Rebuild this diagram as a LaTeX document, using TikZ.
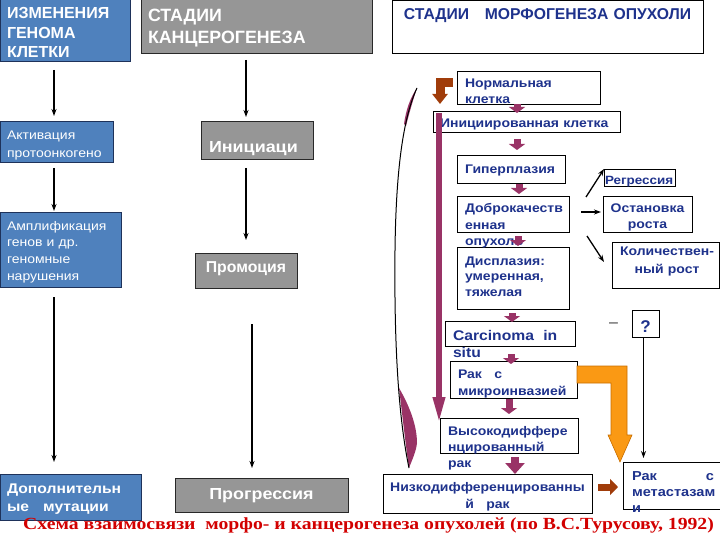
\documentclass[tikz,border=0pt]{standalone}
\usepackage{fontspec}
\setmainfont{Liberation Sans}
\newfontfamily\wsans[FakeStretch=1.12]{Liberation Sans}
\newfontfamily\capfont{Liberation Serif}
\usetikzlibrary{arrows.meta}
\definecolor{bfill}{RGB}{79,129,189}
\definecolor{bdraw}{RGB}{30,50,90}
\definecolor{gfill}{RGB}{150,150,150}
\definecolor{gdraw}{RGB}{40,40,40}
\definecolor{navy}{RGB}{30,50,140}
\definecolor{purp}{RGB}{153,51,102}
\definecolor{brn}{RGB}{160,60,10}
\definecolor{orng}{RGB}{250,153,20}
\definecolor{orngd}{RGB}{200,110,0}
\definecolor{capred}{RGB}{210,0,0}
\begin{document}
\begin{tikzpicture}[x=1pt,y=-1pt,
  box/.style={inner sep=0pt, outer sep=0pt, anchor=north west},
  bluebox/.style={box, fill=bfill, draw=bdraw, line width=1pt},
  graybox/.style={box, fill=gfill, draw=gdraw, line width=1pt},
  wbox/.style={box, fill=white, draw=black, line width=0.8pt},
  lt/.style={inner sep=0pt, outer sep=0pt, anchor=base west, text width=#1, align=left},
  ct/.style={inner sep=0pt, outer sep=0pt, anchor=base, text width=#1, align=center},
  nv/.style={text=navy},
  arr/.style={-{Stealth[length=7pt,width=5pt]}, line width=1.3pt},
  pa/.style={color=purp, line width=7pt, -{Triangle[length=6pt,width=16pt]}},
]
\useasboundingbox (0,0) rectangle (720,540);

% ---------- left column (genome) ----------
\node[bluebox, minimum width=130pt, minimum height=62pt] (b1) at (0,0) {};
\node[bluebox, minimum width=113pt, minimum height=41pt] (b2) at (0,122) {};
\node[bluebox, minimum width=121pt, minimum height=74pt] (b3) at (0,213) {};
\node[bluebox, minimum width=141pt, minimum height=46pt] (b4) at (0,474) {};
\node[lt=125pt, text=white, font=\bfseries\fontsize{16}{19.3}\selectfont] (b1t) at (7,19) {ИЗМЕНЕНИЯ\\ГЕНОМА\\КЛЕТКИ};
\node[lt=110pt, text=white, font=\wsans\fontsize{12.5}{17.5}\selectfont] (b2t) at (7,140) {Активация\\протоонкогено};
\node[lt=118pt, text=white, font=\wsans\fontsize{12.5}{16.7}\selectfont] (b3t) at (7,230) {Амплификация\\генов и др.\\геномные\\нарушения};
\node[lt=140pt, text=white, font=\wsans\bfseries\fontsize{14}{18.7}\selectfont] (b4t) at (7,493) {Дополнительн\\ые\ \ \ мутации};

% ---------- middle column (carcinogenesis) ----------
\node[graybox, minimum width=231pt, minimum height=54pt] (g1) at (141,0) {};
\node[graybox, minimum width=112pt, minimum height=38pt] (g2) at (201,122) {};
\node[graybox, minimum width=102pt, minimum height=35pt] (g3) at (195,253) {};
\node[graybox, minimum width=173pt, minimum height=34pt] (g4) at (175,478) {};
\node[lt=225pt, text=white, font=\bfseries\fontsize{17.8}{21.6}\selectfont] (g1t) at (148,21.7) {СТАДИИ\\КАНЦЕРОГЕНЕЗА};
\node[lt=110pt, text=white, font=\wsans\bfseries\fontsize{16}{21}\selectfont] (g2t) at (209,153) {Инициаци\\я};
\node[ct=100pt, text=white, font=\bfseries\fontsize{15.8}{18}\selectfont] (g3t) at (246,272) {Промоция};
\node[ct=170pt, text=white, font=\wsans\bfseries\fontsize{16}{19}\selectfont] (g4t) at (261.5,499) {Прогрессия};

% ---------- right column (morphogenesis) ----------
\node[wbox, minimum width=311pt, minimum height=52.5pt] (t1) at (392,0.5) {};
\node[ct=305pt, text=navy, font=\bfseries\fontsize{15.7}{18}\selectfont] (t1t) at (547.5,19.3) {СТАДИИ\ \ \ МОРФОГЕНЕЗА ОПУХОЛИ};

\node[wbox, minimum width=143pt, minimum height=33pt] (r1) at (457,71) {};
\node[wbox, minimum width=187pt, minimum height=21pt] (r2) at (433,111) {};
\node[wbox, minimum width=108pt, minimum height=28pt] (r3) at (457,155) {};
\node[wbox, minimum width=112pt, minimum height=36pt] (r4) at (457,196) {};
\node[wbox, minimum width=112pt, minimum height=62pt] (r5) at (457,247) {};
\node[wbox, minimum width=130pt, minimum height=25pt] (r6) at (445,321) {};
\node[wbox, minimum width=127pt, minimum height=37pt] (r7) at (450,361) {};
\node[wbox, minimum width=138pt, minimum height=35pt] (r8) at (440,418) {};
\node[wbox, minimum width=209pt, minimum height=39pt] (r9) at (383,474) {};
\node[wbox, minimum width=100pt, minimum height=47pt] (r10) at (623,462) {};
\node[wbox, minimum width=71pt, minimum height=17pt] (s1) at (604,169) {};
\node[wbox, minimum width=89pt, minimum height=36pt] (s2) at (603,196) {};
\node[wbox, minimum width=107pt, minimum height=46pt] (s3) at (612,242) {};
\node[wbox, minimum width=27pt, minimum height=27pt] (q) at (632,310) {};

\node[lt=140pt, nv, font=\wsans\bfseries\fontsize{12.5}{15.5}\selectfont] (r1t) at (465,88) {Нормальная\\клетка};
\node[lt=185pt, nv, font=\wsans\bfseries\fontsize{12.5}{16}\selectfont] (r2t) at (440,127.5) {Инициированная клетка};
\node[lt=105pt, nv, font=\wsans\bfseries\fontsize{12.5}{16}\selectfont] (r3t) at (465,174) {Гиперплазия};
\node[lt=110pt, nv, font=\wsans\bfseries\fontsize{12.5}{16.3}\selectfont] (r4t) at (465,213) {Доброкачеств\\енная\\опухоль};
\node[lt=110pt, nv, font=\wsans\bfseries\fontsize{12.5}{16}\selectfont] (r5t) at (465,265) {Дисплазия:\\умеренная,\\тяжелая};
\node[lt=125pt, nv, font=\wsans\bfseries\fontsize{14}{17}\selectfont] (r6t) at (453,340) {Carcinoma\ \ in\\situ};
\node[lt=120pt, nv, font=\wsans\bfseries\fontsize{12.5}{17}\selectfont] (r7t) at (458,378) {Рак\ \ \ с\\микроинвазией};
\node[lt=135pt, nv, font=\wsans\bfseries\fontsize{12.5}{16}\selectfont] (r8t) at (448,435) {Высокодиффере\\нцированный\\рак};
\node[ct=205pt, nv, font=\wsans\bfseries\fontsize{12.5}{17}\selectfont] (r9t) at (487.5,491) {Низкодифференцированны\\й\ \ \ рак};
\node[lt=82pt, nv, font=\wsans\bfseries\fontsize{13}{16}\selectfont] (r10t) at (632,480) {Рак\hfill с\\метастазам\\и};
\node[lt=70pt, nv, font=\wsans\bfseries\fontsize{12}{14}\selectfont] (s1t) at (605,185) {Регрессия};
\node[ct=88pt, nv, font=\wsans\bfseries\fontsize{12.5}{15.5}\selectfont] (s2t) at (647.5,212.7) {Остановка\\роста};
\node[ct=106pt, nv, font=\wsans\bfseries\fontsize{12.5}{18}\selectfont] (s3t) at (667,255) {Количествен-\\ный рост};
\node[ct=26pt, nv, font=\bfseries\fontsize{17}{20}\selectfont] (qt) at (645.5,332) {?};
\node[inner sep=0pt, text=black!75, font=\fontsize{16}{18}\selectfont] (dash) at (613.5,325) {–};

% ---------- caption ----------
\node[inner sep=0pt, anchor=base west, text=capred, font=\capfont\bfseries\fontsize{17}{19}\selectfont] (cap) at (23,529) {\scalebox{1.16}[1]{Схема взаимосвязи\ \ морфо- и канцерогенеза опухолей (по В.С.Турусову, 1992)}};

% ---------- black arrows, left and middle ----------
\draw[arr] ([shift={(-11,8)}]b1.south) -- ([shift={(-2.5,-6)}]b2.north);
\draw[arr] ([shift={(-2.5,5)}]b2.south) -- ([shift={(-6.5,-2)}]b3.north);
\draw[arr] ([shift={(-6.5,10)}]b3.south) -- ([shift={(-16.5,-12)}]b4.north);
\draw[arr] ([shift={(-10.5,6)}]g1.south) -- ([shift={(-11,-5)}]g2.north);
\draw[arr] ([shift={(-11,8)}]g2.south) -- ([shift={(0,-13)}]g3.north);
\draw[arr] ([shift={(6,36)}]g3.south) -- ([shift={(-9.5,-10)}]g4.north);

% ---------- curved arrow ----------
\fill[purp] (399,388) .. controls (409,405) and (417,425) .. (417,443) .. controls (416,452) and (412,460) .. (409,468) .. controls (405,440) and (402,412) .. (399,388) -- cycle;
\fill[purp] (417,88) .. controls (414,97) and (410,110) .. (406,126) -- (404,124) .. controls (406,110) and (410,98) .. (417,88) -- cycle;
\draw[line width=1pt] (409,468) .. controls (399,420) and (394,350) .. (395,250) .. controls (396,170) and (403,118) .. (417,88);

% ---------- purple long bar and brown bent arrow ----------
\draw[color=purp, line width=6pt, -{Triangle[length=28pt,width=11pt]}] ([shift={(6,2)}]r2.north west) -- ([shift={(-1,7)}]r8.north west);
\draw[color=brn, line width=9pt, -{Triangle[length=10pt,width=15pt]}] ([shift={(-4,-4.5)}]r1.west) -| ([shift={(7,-7)}]r2.north west);

% ---------- purple block arrows ----------
\draw[pa] ([shift={(-11.5,0)}]r1.south) -- ([shift={(-9.5,2)}]r2.north);
\draw[pa] ([shift={(-9.5,7)}]r2.south) -- ([shift={(6,-5)}]r3.north);
\draw[pa] ([shift={(8,1)}]r3.south) -- ([shift={(6,-2)}]r4.north);
\draw[pa] ([shift={(5,4)}]r4.south) -- ([shift={(5,-1)}]r5.north);
\draw[pa] ([shift={(-1,4)}]r5.south) -- ([shift={(2,1)}]r6.north);
\draw[pa] ([shift={(1,8)}]r6.south) -- ([shift={(-2.5,3)}]r7.north);
\draw[pa] ([shift={(-4.5,1)}]r7.south) -- ([shift={(0,-4)}]r8.north);
\draw[color=purp, line width=8pt, -{Triangle[length=11pt,width=19pt]}] ([shift={(6,4)}]r8.south) -- ([shift={(27.5,0)}]r9.north);

% ---------- brown right arrow ----------
\draw[color=brn, line width=7pt, -{Triangle[length=8pt,width=16pt]}] ([shift={(6,-6.5)}]r9.east) -- ([shift={(-5,1.5)}]r10.west);

% ---------- thin black arrows on the right ----------
\draw[arr] ([shift={(17,-17)}]r4.east) -- ([shift={(0,-8.5)}]s1.west);
\draw[arr] ([shift={(12,-2)}]r4.east) -- ([shift={(-2,-2)}]s2.west);
\draw[arr] ([shift={(18,22)}]r4.east) -- ([shift={(-8,-3)}]s3.west);
\draw[-{Stealth[length=7pt,width=5pt]}, line width=1pt] ([shift={(-2,0)}]q.south) -- ([shift={(-29.5,-4)}]r10.north);

% ---------- orange arrow ----------
\filldraw[fill=orng, draw=orngd, line width=0.6pt] ([shift={(0,-13.5)}]r7.east) -- (627,366) -- (627,435) -- (632,435) -- (620,462) -- (608,435) -- (611,435) -- (611,383) -- ([shift={(0,3.5)}]r7.east) -- cycle;
\end{tikzpicture}
\end{document}
